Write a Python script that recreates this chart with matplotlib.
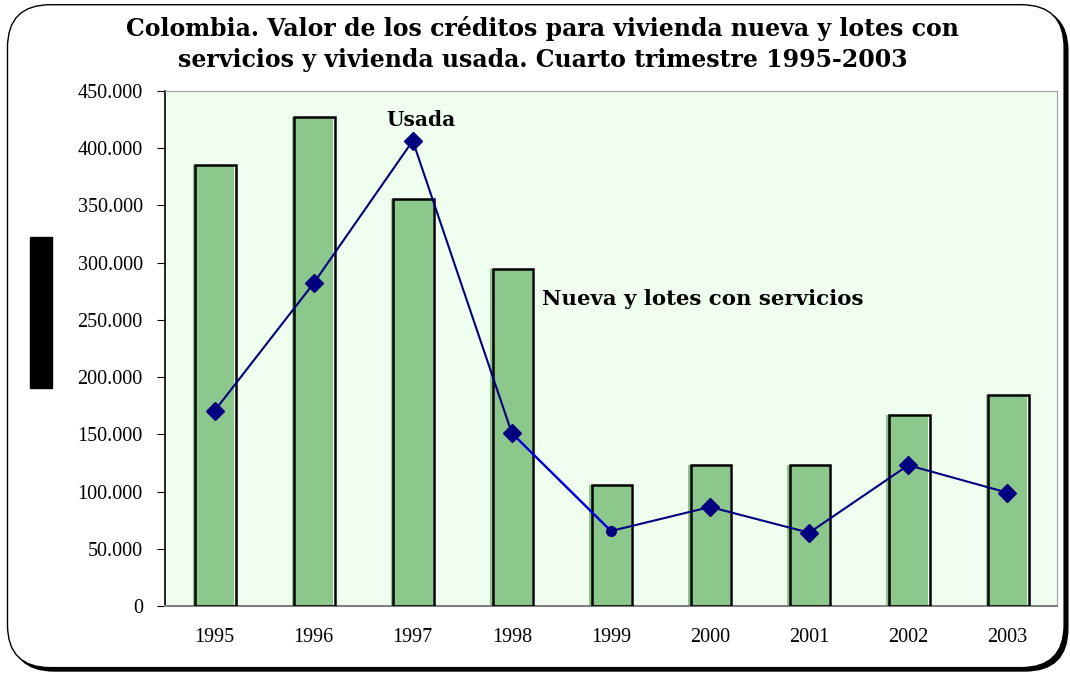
import matplotlib
matplotlib.use('Agg')
import matplotlib.pyplot as plt
from matplotlib.patches import FancyBboxPatch, Rectangle
from matplotlib.ticker import FuncFormatter

years = ['1995', '1996', '1997', '1998', '1999', '2000', '2001', '2002', '2003']
nueva = [385000, 427000, 355500, 294500, 106000, 123500, 123500, 167000, 184500]
usada = [170500, 282000, 406500, 151000, 65500, 86500, 64000, 123000, 99000]

title = ('Colombia. Valor de los créditos para vivienda nueva y lotes con\n'
         'servicios y vivienda usada. Cuarto trimestre 1995-2003')


def miles(v, pos):
    return f'{int(v):,}'.replace(',', '.')


fig = plt.figure(figsize=(10.7, 6.73), dpi=100)

# rounded frame with a shadow at the bottom right
box = dict(boxstyle='round,pad=0,rounding_size=0.04', transform=fig.transFigure,
           mutation_aspect=1070 / 673)
shadow = FancyBboxPatch((0.0105, 0.003), 0.9875, 0.985, facecolor='black',
                        edgecolor='black', zorder=0, **box)
frame = FancyBboxPatch((0.007, 0.008), 0.9875, 0.985, facecolor='white',
                       edgecolor='black', linewidth=1, zorder=1, **box)
fig.patches.extend([shadow, frame])
fig.patches.append(Rectangle((30 / 1070, 1 - 388 / 673), 22 / 1070, 151 / 673,
                             transform=fig.transFigure, color='black', zorder=2))

ax = fig.add_axes([0.1542, 0.0996, 0.8336, 0.7652])
ax.set_facecolor('#EFFEEF')
ax.set_zorder(3)

x = list(range(len(years)))
ax.bar([i - 0.01 for i in x], nueva, width=0.42, color='#8CC88C', edgecolor='none', zorder=2)
ax.bar([i + 0.01 for i in x], nueva, width=0.41, facecolor='none', edgecolor='black',
       linewidth=1.8, zorder=3)
ax.plot(x, usada, color='#000080', linewidth=1.5, zorder=4)
ax.plot(x[3:5], usada[3:5], color='#0000EE', linewidth=1.5, zorder=4)
ax.plot(x[:4] + x[5:], usada[:4] + usada[5:], linestyle='none', marker='D',
        markersize=9, color='#000080', zorder=5)
ax.plot(x[4:5], usada[4:5], linestyle='none', marker='o', markersize=7,
        color='#000080', zorder=5)

ax.set_xlim(-0.5, 8.5)
ax.set_ylim(0, 450000)
ax.set_yticks(range(0, 450001, 50000))
ax.yaxis.set_major_formatter(FuncFormatter(miles))
ax.set_xticks(x)
ax.set_xticklabels(years)
ax.tick_params(axis='x', length=0, pad=16)
ax.tick_params(axis='y', length=6, direction='out', pad=10)
for lab in ax.get_yticklabels() + ax.get_xticklabels():
    lab.set_fontfamily('Liberation Serif')
    lab.set_fontsize(14.5)

ax.spines['left'].set_color('black')
ax.spines['left'].set_linewidth(1.2)
ax.spines['bottom'].set_color('#808080')
ax.spines['bottom'].set_linewidth(1.5)
ax.spines['top'].set_color('#A0A0A0')
ax.spines['right'].set_color('#A0A0A0')

ax.text(2.08, 425000, 'Usada', ha='center', va='center', fontsize=14.5,
        fontweight='bold', fontfamily='DejaVu Serif')
ax.text(3.3, 268000, 'Nueva y lotes con servicios', ha='left', va='center', fontsize=15.3,
        fontweight='bold', fontfamily='DejaVu Serif')

fig.text(0.507, 0.935, title, ha='center', va='center', fontsize=17, fontweight='bold',
         fontfamily='DejaVu Serif', linespacing=1.35, zorder=5)

fig.savefig('out.png', dpi=100)
